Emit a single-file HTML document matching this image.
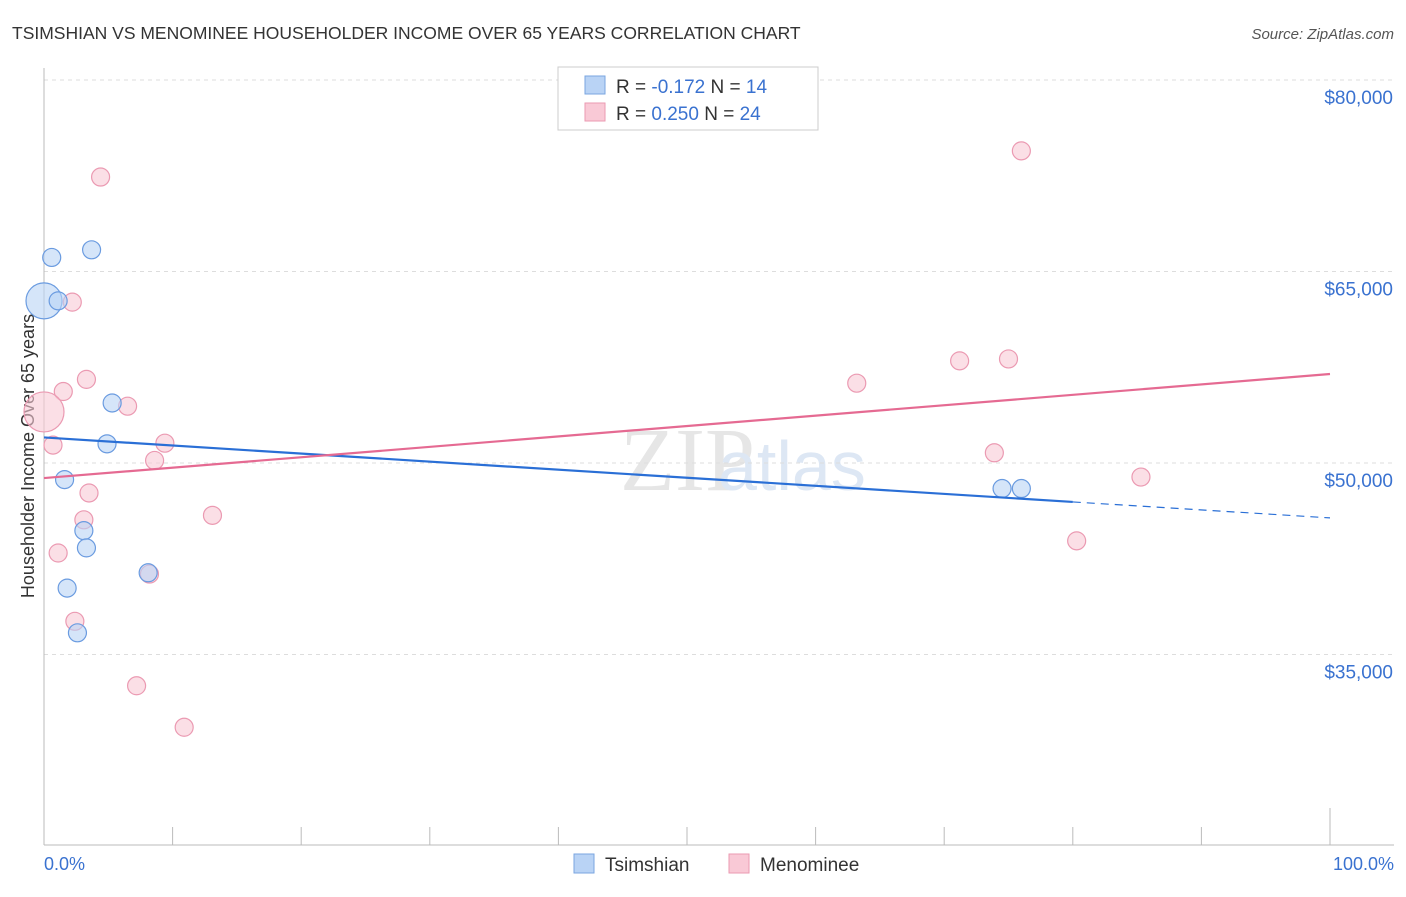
<!DOCTYPE html>
<html><head><meta charset="utf-8"><style>
body{margin:0;background:#fff;font-family:"Liberation Sans",sans-serif;}
</style></head><body>
<svg width="1406" height="892" xmlns="http://www.w3.org/2000/svg" id="svg">
<text x="12" y="39" font-size="17.5" fill="#333">TSIMSHIAN VS MENOMINEE HOUSEHOLDER INCOME OVER 65 YEARS CORRELATION CHART</text>
<text x="1394" y="39" font-size="15" fill="#555" text-anchor="end" font-style="italic">Source: ZipAtlas.com</text>
<text x="620" y="490" font-size="90" fill="#e6e6e6" font-family="Liberation Serif,serif">ZIP</text>
<text x="718" y="490" font-size="70" fill="#dde7f4">atlas</text>
<g id="grid"></g>
<line x1="44" y1="68" x2="44" y2="845" stroke="#bbb"/>
<line x1="44" y1="845" x2="1394" y2="845" stroke="#bbb"/>
<g id="ticks"></g>
<text x="44" y="870" font-size="18" fill="#3a72d0">0.0%</text>
<text x="1394" y="870" font-size="18" fill="#3a72d0" text-anchor="end">100.0%</text>
<text transform="translate(34,456) rotate(-90)" font-size="18" fill="#333" text-anchor="middle">Householder Income Over 65 years</text>
<g id="marks"></g>
<g>
<rect x="558" y="67" width="260" height="63" fill="#fff" stroke="#ccc"/>
<rect x="585" y="76" width="20" height="18" fill="#b9d3f5" stroke="#7aa6e0"/>
<text x="616" y="93" font-size="19" fill="#333">R = <tspan fill="#3a72d0">-0.172</tspan>   N = <tspan fill="#3a72d0">14</tspan></text>
<rect x="585" y="103" width="20" height="18" fill="#f9c9d6" stroke="#eb9ab2"/>
<text x="616" y="120" font-size="19" fill="#333">R = <tspan fill="#3a72d0"> 0.250</tspan>   N = <tspan fill="#3a72d0">24</tspan></text>
</g>
<g>
<rect x="574" y="854" width="20" height="19" fill="#b9d3f5" stroke="#7aa6e0"/>
<text x="605" y="871" font-size="19" fill="#333">Tsimshian</text>
<rect x="729" y="854" width="20" height="19" fill="#f9c9d6" stroke="#eb9ab2"/>
<text x="760" y="871" font-size="19" fill="#333">Menominee</text>
</g>
</svg>
<script>
const yTicks=[35000,50000,65000,80000];
const yTickLabels=["$35,000","$50,000","$65,000","$80,000"];
const xTicks=[0,10,20,30,40,50,60,70,80,90,100];
const tsX=[0.6,0,1.1,3.7,5.3,4.9,1.6,3.1,3.3,1.8,2.6,8.1,74.5,76.0];
const tsY=[66100,62700,62700,66700,54700,51500,48700,44700,43350,40200,36700,41400,48000,48000];
const tsR=[9,18,9,9,9,9,9,9,9,9,9,9,9,9];
const meX=[4.4,2.2,3.3,1.5,0,6.5,0.7,9.4,8.6,3.5,3.1,13.1,1.1,8.2,2.4,7.2,10.9,63.2,71.2,75.0,76.0,73.9,85.3,80.3];
const meY=[72400,62600,56550,55600,54000,54450,51400,51550,50200,47650,45550,45900,42950,41300,37600,32550,29300,56250,58000,58150,74450,50800,48900,43900];
const meR=[9,9,9,9,20,9,9,9,9,9,9,9,9,9,9,9,9,9,9,9,9,9,9,9];
const tsTrend=[52000,46950,45700];
const tsTrendX=[0,80,100];
const meTrend=[48820,56970];
const meTrendX=[0,100];
const X=p=>44+p*12.86;
const Y=v=>80+(80000-v)/78.33;
const NS="http://www.w3.org/2000/svg";
function mk(t,a,parent){const e=document.createElementNS(NS,t);for(const k in a)e.setAttribute(k,a[k]);document.getElementById(parent).appendChild(e);return e;}
yTicks.forEach((v,i)=>{
 const l=mk('line',{x1:44,x2:1394,y1:Y(v),y2:Y(v),stroke:'#ddd','stroke-dasharray':'4,4'},'grid');
 
 
 const t=mk('text',{x:1393,y:Y(v)+24,'font-size':19,fill:'#3a72d0','text-anchor':'end'},'grid');
 t.textContent=yTickLabels[i];
 
 
});
xTicks.forEach((p,i)=>{
 const l=mk('line',{x1:X(p),x2:X(p),y1:(i==0||i==10)?808:827,y2:845,stroke:'#bbb'},'ticks');
 
 
});
function dots(xs,ys,rs,fill,stroke,name){xs.forEach((x,i)=>{
 const c=mk('circle',{cx:X(x),cy:Y(ys[i]),r:rs[i],fill:fill,'fill-opacity':0.6,stroke:stroke,'stroke-width':1.2},'marks');
 
 
});}
dots(meX,meY,meR,'#f9c9d6','#eb9ab2','menominee-point');
dots(tsX,tsY,tsR,'#b9d3f5','#6a9be0','tsimshian-point');
let l=mk('line',{x1:X(tsTrendX[0]),y1:Y(tsTrend[0]),x2:X(tsTrendX[1]),y2:Y(tsTrend[1]),stroke:'#2a6fd6','stroke-width':2.2},'marks');


l=mk('line',{x1:X(tsTrendX[1]),y1:Y(tsTrend[1]),x2:X(tsTrendX[2]),y2:Y(tsTrend[2]),stroke:'#2a6fd6','stroke-width':1.2,'stroke-dasharray':'8,6'},'marks');


l=mk('line',{x1:X(meTrendX[0]),y1:Y(meTrend[0]),x2:X(meTrendX[1]),y2:Y(meTrend[1]),stroke:'#e56a92','stroke-width':2.2},'marks');


</script>
</body></html>
